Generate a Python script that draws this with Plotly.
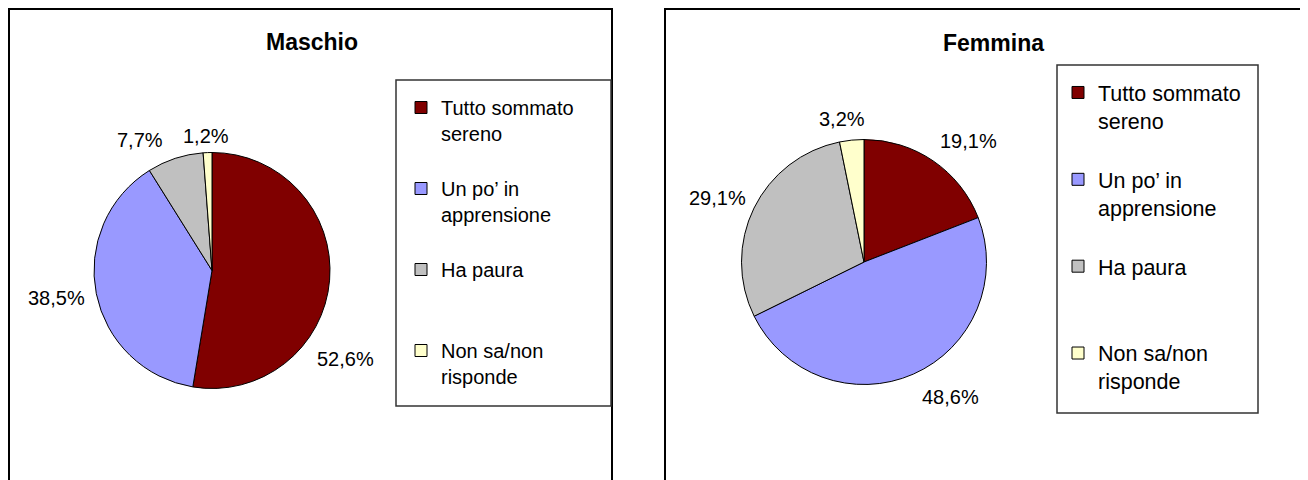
import plotly.graph_objects as go

# ---- data ----
categories = ["Tutto sommato sereno", "Un po’ in apprensione", "Ha paura", "Non sa/non risponde"]
legend_labels = ["Tutto sommato<br>sereno<br> ", "Un po’ in<br>apprensione<br> ",
                 "Ha paura<br> <br> ", "Non sa/non<br>risponde<br> "]
maschio_values = [52.6, 38.5, 7.7, 1.2]
femmina_values = [19.1, 48.6, 29.1, 3.2]
slice_colors = ["#800000", "#9999FF", "#C0C0C0", "#FFFFCC"]
panel_titles = ["Maschio", "Femmina"]

# ---- layout (screen pixels; the page body has an 8px margin) ----
OFF = 8
W, H = 1300, 472
FONT = "Liberation Sans, Arial, sans-serif"

# anchor points for the percentage labels of each pie (screen px)
maschio_label_pos = [(345, 359), (56, 298), (140, 140), (206, 136)]
femmina_label_pos = [(968, 141), (950, 397), (717, 198), (842, 119)]


def px(x):
    return (x - OFF) / W


def py(y):
    return 1 - (y - OFF) / H


def pct(v):
    return f"{v:.1f}%".replace(".", ",")


def pie(values, labels, cx, cy, r, legend):
    return go.Pie(
        labels=labels,
        values=values,
        textinfo="none",
        marker=dict(colors=slice_colors, line=dict(color="black", width=1)),
        sort=False,
        direction="clockwise",
        rotation=0,
        domain=dict(x=[px(cx - r), px(cx + r)], y=[py(cy + r), py(cy - r)]),
        legend=legend,
        hoverinfo="label+percent",
    )


fig = go.Figure()
fig.add_trace(pie(maschio_values, legend_labels, 212, 270.5, 118, "legend"))
fig.add_trace(pie(femmina_values, [l + "\u200b" for l in legend_labels], 864, 262, 122.5, "legend2"))

shapes = [
    # panel frames
    dict(type="rect", xref="paper", yref="paper", x0=px(9), x1=px(612), y0=py(500), y1=py(9),
         line=dict(color="black", width=2)),
    dict(type="rect", xref="paper", yref="paper", x0=px(665), x1=px(1330), y0=py(500), y1=py(9),
         line=dict(color="black", width=2)),
    # legend frames
    dict(type="rect", xref="paper", yref="paper", x0=px(396), x1=px(611), y0=py(406), y1=py(80),
         line=dict(color="#333333", width=1.5)),
    dict(type="rect", xref="paper", yref="paper", x0=px(1057), x1=px(1258), y0=py(413), y1=py(65),
         line=dict(color="#333333", width=1.5)),
]

annotations = [
    dict(text=f"<b>{panel_titles[0]}</b>", x=px(311.5), y=py(42), xref="paper", yref="paper",
         showarrow=False, xanchor="center", yanchor="middle",
         font=dict(family=FONT, size=23, color="black")),
    dict(text=f"<b>{panel_titles[1]}</b>", x=px(993), y=py(43), xref="paper", yref="paper",
         showarrow=False, xanchor="center", yanchor="middle",
         font=dict(family=FONT, size=23, color="black")),
]
for values, positions in ((maschio_values, maschio_label_pos), (femmina_values, femmina_label_pos)):
    for v, (lx, ly) in zip(values, positions):
        annotations.append(dict(text=pct(v), x=px(lx), y=py(ly), xref="paper", yref="paper",
                                showarrow=False, xanchor="center", yanchor="middle",
                                font=dict(family=FONT, size=20, color="black")))

fig.update_layout(
    width=W, height=H,
    margin=dict(l=0, r=0, t=0, b=0),
    paper_bgcolor="white",
    plot_bgcolor="white",
    font=dict(family=FONT, color="black"),
    shapes=shapes,
    annotations=annotations,
    legend=dict(x=px(401), y=py(88), xanchor="left", yanchor="top",
                bgcolor="rgba(0,0,0,0)", borderwidth=0, valign="top",
                font=dict(family=FONT, size=20, color="black")),
    legend2=dict(x=px(1058), y=py(72), xanchor="left", yanchor="top",
                 bgcolor="rgba(0,0,0,0)", borderwidth=0, valign="top",
                 font=dict(family=FONT, size=21.5, color="black")),
)

fig.write_html("out.html")
